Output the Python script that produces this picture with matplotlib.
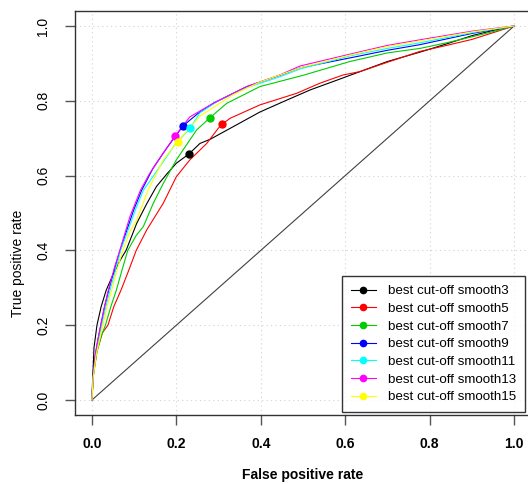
import matplotlib
matplotlib.use('Agg')
import matplotlib.pyplot as plt

# ROC curves (false positive rate, true positive rate)
fpr_smooth3 = [0, 0.002, 0.005, 0.012, 0.022, 0.034, 0.05, 0.066, 0.081, 0.106, 0.13, 0.153, 0.178, 0.2,
               0.23, 0.256, 0.28, 0.327, 0.398, 0.46, 0.517, 0.58, 0.635, 0.7, 0.777, 0.84, 0.9, 0.95, 1]
tpr_smooth3 = [0, 0.06, 0.14, 0.2, 0.25, 0.294, 0.335, 0.372, 0.4, 0.472, 0.525, 0.571, 0.605, 0.633,
               0.658, 0.686, 0.697, 0.726, 0.77, 0.801, 0.829, 0.855, 0.878, 0.905, 0.93, 0.952, 0.974, 0.988, 1]

fpr_smooth5 = [0, 0.004, 0.012, 0.025, 0.038, 0.052, 0.069, 0.085, 0.105, 0.13, 0.169, 0.2, 0.232, 0.272,
               0.299, 0.308, 0.327, 0.398, 0.485, 0.54, 0.595, 0.635, 0.7, 0.777, 0.84, 0.9, 0.95, 1]
tpr_smooth5 = [0, 0.07, 0.13, 0.18, 0.2, 0.25, 0.294, 0.34, 0.4, 0.455, 0.526, 0.597, 0.642, 0.686,
               0.726, 0.737, 0.753, 0.789, 0.82, 0.847, 0.869, 0.878, 0.903, 0.932, 0.948, 0.964, 0.982, 1]

fpr_smooth7 = [0, 0.004, 0.012, 0.022, 0.032, 0.045, 0.058, 0.072, 0.085, 0.105, 0.122, 0.145, 0.169, 0.2,
               0.248, 0.28, 0.319, 0.398, 0.5, 0.56, 0.611, 0.65, 0.7, 0.777, 0.84, 0.9, 0.95, 1]
tpr_smooth7 = [0, 0.07, 0.13, 0.17, 0.2, 0.25, 0.294, 0.35, 0.4, 0.44, 0.464, 0.525, 0.579, 0.642,
               0.722, 0.755, 0.793, 0.838, 0.868, 0.888, 0.905, 0.915, 0.928, 0.94, 0.955, 0.971, 0.985, 1]

fpr_smooth9 = [0, 0.003, 0.008, 0.014, 0.021, 0.03, 0.04, 0.055, 0.067, 0.083, 0.099, 0.118, 0.145, 0.175,
               0.216, 0.25, 0.29, 0.367, 0.445, 0.493, 0.635, 0.7, 0.777, 0.9, 1]
tpr_smooth9 = [0, 0.07, 0.12, 0.16, 0.2, 0.25, 0.294, 0.356, 0.4, 0.455, 0.508, 0.561, 0.62, 0.67,
               0.733, 0.765, 0.795, 0.838, 0.868, 0.888, 0.92, 0.935, 0.95, 0.98, 1]

fpr_smooth11 = [0, 0.003, 0.009, 0.016, 0.023, 0.033, 0.043, 0.058, 0.068, 0.086, 0.103, 0.122, 0.161, 0.195,
                0.232, 0.256, 0.3, 0.367, 0.445, 0.493, 0.611, 0.7, 0.777, 0.9, 1]
tpr_smooth11 = [0, 0.06, 0.12, 0.16, 0.2, 0.25, 0.294, 0.356, 0.4, 0.455, 0.508, 0.561, 0.624, 0.68,
                0.726, 0.768, 0.8, 0.835, 0.864, 0.885, 0.92, 0.94, 0.955, 0.982, 1]

fpr_smooth13 = [0, 0.003, 0.008, 0.014, 0.021, 0.03, 0.039, 0.054, 0.066, 0.09, 0.115, 0.137, 0.169,
                0.197, 0.232, 0.287, 0.367, 0.445, 0.493, 0.635, 0.7, 0.777, 0.9, 1]
tpr_smooth13 = [0, 0.06, 0.12, 0.16, 0.2, 0.25, 0.294, 0.356, 0.4, 0.49, 0.561, 0.606, 0.66,
                0.706, 0.757, 0.793, 0.838, 0.869, 0.893, 0.931, 0.948, 0.963, 0.986, 1]

fpr_smooth15 = [0, 0.003, 0.01, 0.018, 0.026, 0.036, 0.047, 0.06, 0.073, 0.092, 0.106, 0.133, 0.169, 0.203,
                0.256, 0.334, 0.398, 0.493, 0.611, 0.7, 0.777, 0.9, 1]
tpr_smooth15 = [0, 0.06, 0.12, 0.16, 0.2, 0.25, 0.294, 0.35, 0.4, 0.455, 0.481, 0.561, 0.642, 0.691,
                0.759, 0.816, 0.85, 0.888, 0.922, 0.945, 0.96, 0.984, 1]

# best cut-off points
cut_fpr = [0.23, 0.308, 0.28, 0.216, 0.232, 0.197, 0.203]
cut_tpr = [0.658, 0.737, 0.755, 0.733, 0.726, 0.706, 0.691]

labels = ['best cut-off smooth3', 'best cut-off smooth5', 'best cut-off smooth7', 'best cut-off smooth9',
          'best cut-off smooth11', 'best cut-off smooth13', 'best cut-off smooth15']
colors = ['black', 'red', '#00cc00', 'blue', 'cyan', 'magenta', 'yellow']
ticks = [0.0, 0.2, 0.4, 0.6, 0.8, 1.0]

curves = [(fpr_smooth3, tpr_smooth3), (fpr_smooth5, tpr_smooth5), (fpr_smooth7, tpr_smooth7),
          (fpr_smooth9, tpr_smooth9), (fpr_smooth11, tpr_smooth11), (fpr_smooth13, tpr_smooth13),
          (fpr_smooth15, tpr_smooth15)]

plt.rcParams['font.family'] = ['Liberation Sans', 'DejaVu Sans']

fig = plt.figure(figsize=(5.28, 4.84), dpi=100)
ax = fig.add_axes([75 / 528, 69 / 484, 456 / 528, 404 / 484])

# dotted grid at the tick positions
for t in ticks:
    ax.axvline(t, color='#d3d3d3', lw=0.8, ls=(0, (1, 3)), zorder=0)
    ax.axhline(t, color='#d3d3d3', lw=0.8, ls=(0, (1, 3)), zorder=0)

ax.plot([0, 1], [0, 1], color='#404040', lw=0.8)

for (fx, ty), c in zip(curves, colors):
    ax.plot(fx, ty, color=c, lw=0.8)

handles = []
for fx, ty, c, lab in zip(cut_fpr, cut_tpr, colors, labels):
    h, = ax.plot([fx], [ty], color=c, marker='o', markersize=5, ls='-', lw=0.8, label=lab)
    handles.append(h)

ax.set_xlim(-0.04, 1.04)
ax.set_ylim(-0.04, 1.04)
ax.set_xticks(ticks)
ax.set_yticks(ticks)
ax.set_xticklabels(['%.1f' % t for t in ticks], fontsize=10, fontweight='bold')
ax.set_yticklabels(['%.1f' % t for t in ticks], fontsize=10, rotation=90, va='center')
ax.tick_params(axis='x', length=7, width=1, color='#555555', pad=9)
ax.tick_params(axis='y', length=7, width=1, color='#555555', pad=11)
for s in ax.spines.values():
    s.set_color('#333333')
    s.set_linewidth(1)

ax.set_xlabel('False positive rate', fontsize=10, fontweight='bold')
ax.xaxis.set_label_coords(0.5, -0.149)
ax.xaxis.label.set_va('center')
ax.set_ylabel('True positive rate', fontsize=10)
ax.yaxis.set_label_coords(-0.125, 0.376)
ax.yaxis.label.set_va('center')

leg = ax.legend(handles=handles, loc='lower right', bbox_to_anchor=(0.987, 0.0074), borderaxespad=0,
                fontsize=9.6, frameon=True, fancybox=False, handlelength=1.9, handletextpad=0.9,
                labelspacing=0.4, borderpad=0.65, markerscale=0.9)
leg.get_frame().set_edgecolor('black')
leg.get_frame().set_linewidth(1)

fig.savefig('out.png', dpi=100)
